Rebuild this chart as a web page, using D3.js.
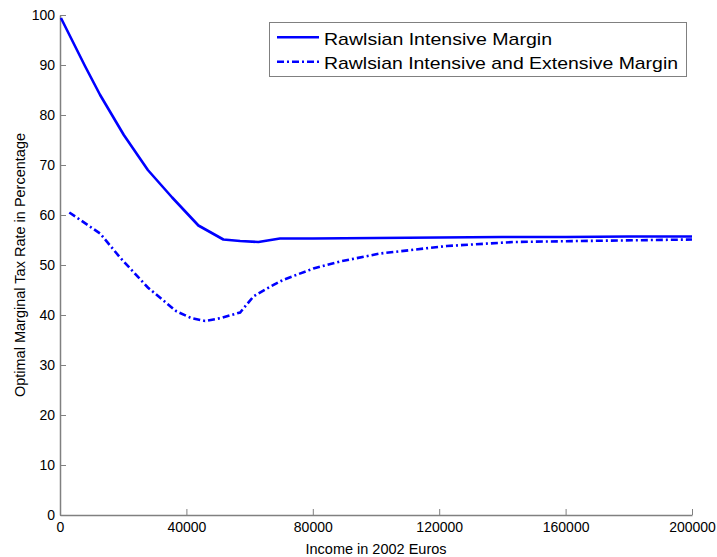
<!DOCTYPE html>
<html><head><meta charset="utf-8">
<script src="https://cdn.jsdelivr.net/npm/d3@7"></script>
<style>body{margin:0;background:#fff}svg{display:block}</style>
</head><body>
<script>
const seriesNames = ["Rawlsian Intensive Margin", "Rawlsian Intensive and Extensive Margin"];
const intensiveIncome = [300, 7900, 12700, 20200, 27800, 35500, 43800, 51700, 57000, 62800, 69600, 80000, 100000, 120000, 140000, 160000, 180000, 200000];
const intensiveRate   = [99.4, 89.8, 84.0, 76.0, 69.0, 63.5, 57.9, 55.1, 54.8, 54.6, 55.3, 55.3, 55.4, 55.5, 55.6, 55.6, 55.7, 55.7];
const extensiveIncome = [2950, 12700, 19000, 27800, 36900, 41500, 45900, 51000, 57000, 61200, 65500, 70500, 80200, 88600, 101300, 122400, 143500, 164600, 200000];
const extensiveRate   = [60.5, 56.3, 51.5, 45.5, 40.7, 39.4, 38.8, 39.4, 40.5, 43.7, 45.3, 47.0, 49.3, 50.7, 52.3, 53.8, 54.6, 54.8, 55.1];
const xTicks = [0, 40000, 80000, 120000, 160000, 200000];
const yTicks = [0, 10, 20, 30, 40, 50, 60, 70, 80, 90, 100];

const W = 717, H = 557;
const svg = d3.select("body").append("svg").attr("width", W).attr("height", H);
const x = d3.scaleLinear().domain([0, 200000]).range([60, 692]);
const y = d3.scaleLinear().domain([0, 100]).range([515, 15]);
const font = "'Liberation Sans', Arial, Helvetica, sans-serif";
const axisCol = "#808080";

// axes
const xa = svg.append("g").attr("transform", `translate(0,${y(0)})`)
  .call(d3.axisBottom(x).tickValues(xTicks).tickSizeInner(-6).tickSizeOuter(0).tickPadding(7).tickFormat(d3.format("d")));
const ya = svg.append("g").attr("transform", `translate(${x(0)},0)`)
  .call(d3.axisLeft(y).tickValues(yTicks).tickSizeInner(-6).tickSizeOuter(0).tickPadding(5).tickFormat(d3.format("d")));
[xa, ya].forEach(a => {
  a.select(".domain").attr("stroke", axisCol).attr("stroke-width", 1.5);
  a.selectAll(".tick line").attr("stroke", axisCol);
  a.selectAll(".tick text").attr("fill", "#000").style("font-family", font).style("font-size", "14px");
});

// lines
const line = d3.line().x(d => x(d[0])).y(d => y(d[1]));
const d1 = intensiveIncome.map((v, i) => [v, intensiveRate[i]]);
const d2 = extensiveIncome.map((v, i) => [v, extensiveRate[i]]);
svg.append("path").datum(d1).attr("d", line).attr("fill", "none").attr("stroke", "#0000ff").attr("stroke-width", 2.6).attr("stroke-linejoin", "round");
svg.append("path").datum(d2).attr("d", line).attr("fill", "none").attr("stroke", "#0000ff").attr("stroke-width", 2.6).attr("stroke-dasharray", "7,3,2,3");

// labels
svg.append("text").attr("x", x(100000)).attr("y", 553.5).attr("text-anchor", "middle")
  .style("font-family", font).style("font-size", "14.5px").text("Income in 2002 Euros");
svg.append("text").attr("transform", `translate(24.5,${y(50)}) rotate(-90)`).attr("text-anchor", "middle")
  .style("font-family", font).style("font-size", "14.5px").text("Optimal Marginal Tax Rate in Percentage");

// legend
const lg = svg.append("g");
lg.append("rect").attr("x", 269.5).attr("y", 22.5).attr("width", 417).attr("height", 54)
  .attr("fill", "#fff").attr("stroke", axisCol).attr("stroke-width", 1);
const styles = [null, "7,3,2,3"];
const lens = [228, 354];
const rows = [37.3, 61.7];
seriesNames.forEach((n, i) => {
  const cy = rows[i];
  const l = lg.append("line").attr("x1", 277).attr("x2", 319).attr("y1", cy).attr("y2", cy)
    .attr("stroke", "#0000ff").attr("stroke-width", 2.6);
  if (styles[i]) l.attr("stroke-dasharray", styles[i]);
  lg.append("text").attr("x", 324).attr("y", cy + 7.7).attr("textLength", lens[i]).attr("lengthAdjust", "spacingAndGlyphs")
    .style("font-family", font).style("font-size", "17px").text(n);
});
</script>
</body></html>
